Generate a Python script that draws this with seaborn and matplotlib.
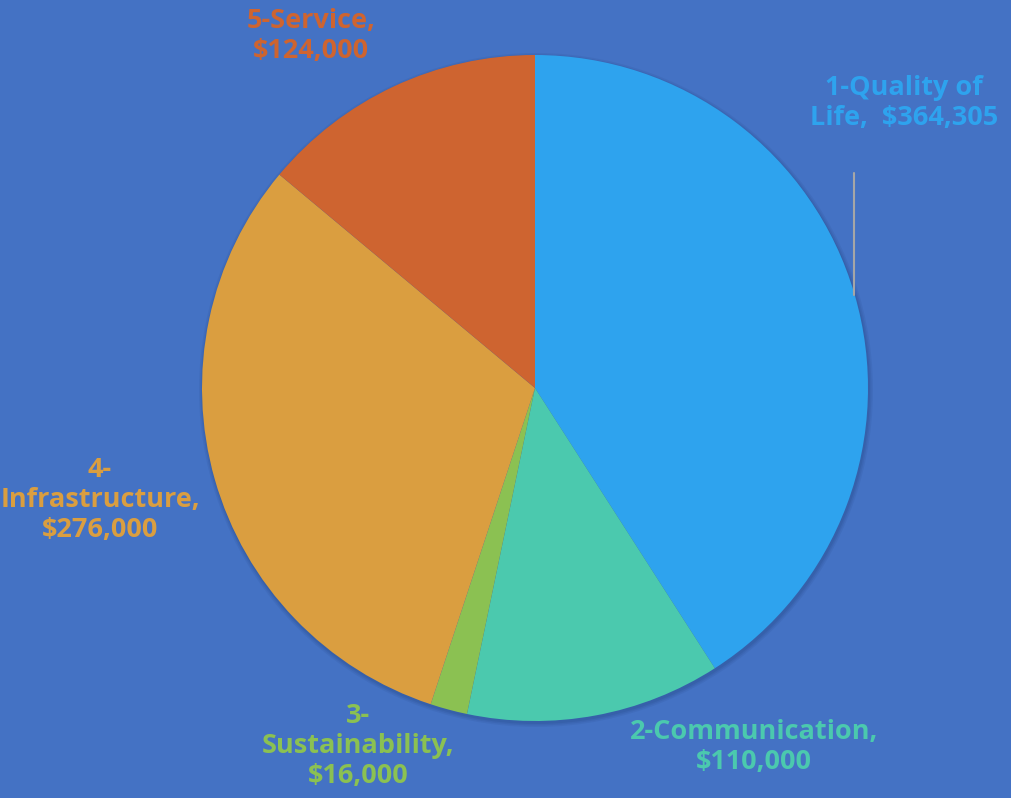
import matplotlib
matplotlib.use("Agg")
import matplotlib.pyplot as plt
import seaborn as sns

sns.set_theme(style="white")
plt.rcParams['font.family'] = ['Open Sans', 'DejaVu Sans']

categories = ["1-Quality of Life", "2-Communication", "3-Sustainability", "4-Infrastructure", "5-Service"]
values = [364305, 110000, 16000, 276000, 124000]
label_texts = ["1-Quality of\nLife,  $364,305", "2-Communication,\n$110,000",
               "3-\nSustainability,\n$16,000", "4-\nInfrastructure,\n$276,000",
               "5-Service,\n$124,000"]
colors = ["#2EA3EE", "#4BC9AE", "#8BC152", "#DA9E40", "#CE6430"]
bg = "#4472C4"

W, H = 1011, 798
fig = plt.figure(figsize=(W / 100, H / 100), dpi=100, facecolor=bg)
ax = fig.add_axes([0, 0, 1, 1])
ax.set_facecolor(bg)

cx, cy, r = 535, H - 388, 333
# subtle soft shadow
for i, a in enumerate([0.10, 0.12, 0.15]):
    ax.add_patch(plt.Circle((cx + 1, cy - 2), r + 4 - i * 1.5, color="#1f3f7a",
                            alpha=a, zorder=0, lw=0))
ax.pie(values, colors=colors, startangle=90, counterclock=False,
       center=(cx, cy), radius=r, frame=True,
       wedgeprops=dict(edgecolor="none", linewidth=0))
ax.set_xlim(0, W)
ax.set_ylim(0, H)
ax.set_aspect('equal')
ax.axis('off')

label_pos = [(904, H - 103), (754, H - 747), (358, H - 746), (100, H - 500), (311, H - 36)]
for txt, (x, y), c in zip(label_texts, label_pos, colors):
    ax.text(x, y, txt, ha='center', va='center', color=c, fontsize=19.5,
            fontweight='bold', linespacing=1.2)

ax.plot([854, 854], [H - 173, H - 295], color="#A6A6A6", lw=1.5)

fig.savefig("out.png", dpi=100, facecolor=bg)
